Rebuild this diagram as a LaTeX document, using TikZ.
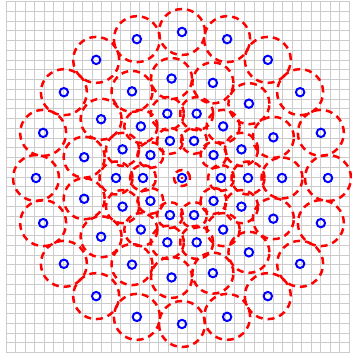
\documentclass[tikz,border=0pt]{standalone}
\usepackage{xcolor}

\tikzset{
  cover/.style={red, line width=2.5pt, dash pattern=on 7pt off 5pt},
  sample/.style={blue, line width=2pt},
  helpgrid/.style={gray!40, line width=0.9pt},
}

\begin{document}
\begin{tikzpicture}[x=1pt,y=1pt]
  \useasboundingbox (-182,-177) rectangle (170,178);

  % Background grid
  \foreach \i in {0,...,36} {
    \draw[helpgrid] ({-175.7+9.525*\i},-174.5) -- ({-175.7+9.525*\i},176.5);
    \draw[helpgrid] (-175.7,{176.5-9.75*\i}) -- (167.2,{176.5-9.75*\i});
  }

  % Covering discs: centre, then the rings (count/distance/radius)
  \draw[cover] (0,0) circle (8);
  \foreach \n/\d/\r in {10/39/13, 14/66/16.5, 15/100/20.5, 20/146/23} {
    \foreach \k in {1,...,\n}
      \draw[cover] ({360/\n*\k}:\d) circle (\r);
  }

  % Sample points
  \draw[sample] (0,0) circle (4.2);
  \fill[red] (0,0) circle (1.4);
  \foreach \n/\d in {10/39, 14/66, 15/100, 20/146} {
    \foreach \k in {1,...,\n}
      \draw[sample] ({360/\n*\k}:\d) circle (4.2);
  }
\end{tikzpicture}
\end{document}
